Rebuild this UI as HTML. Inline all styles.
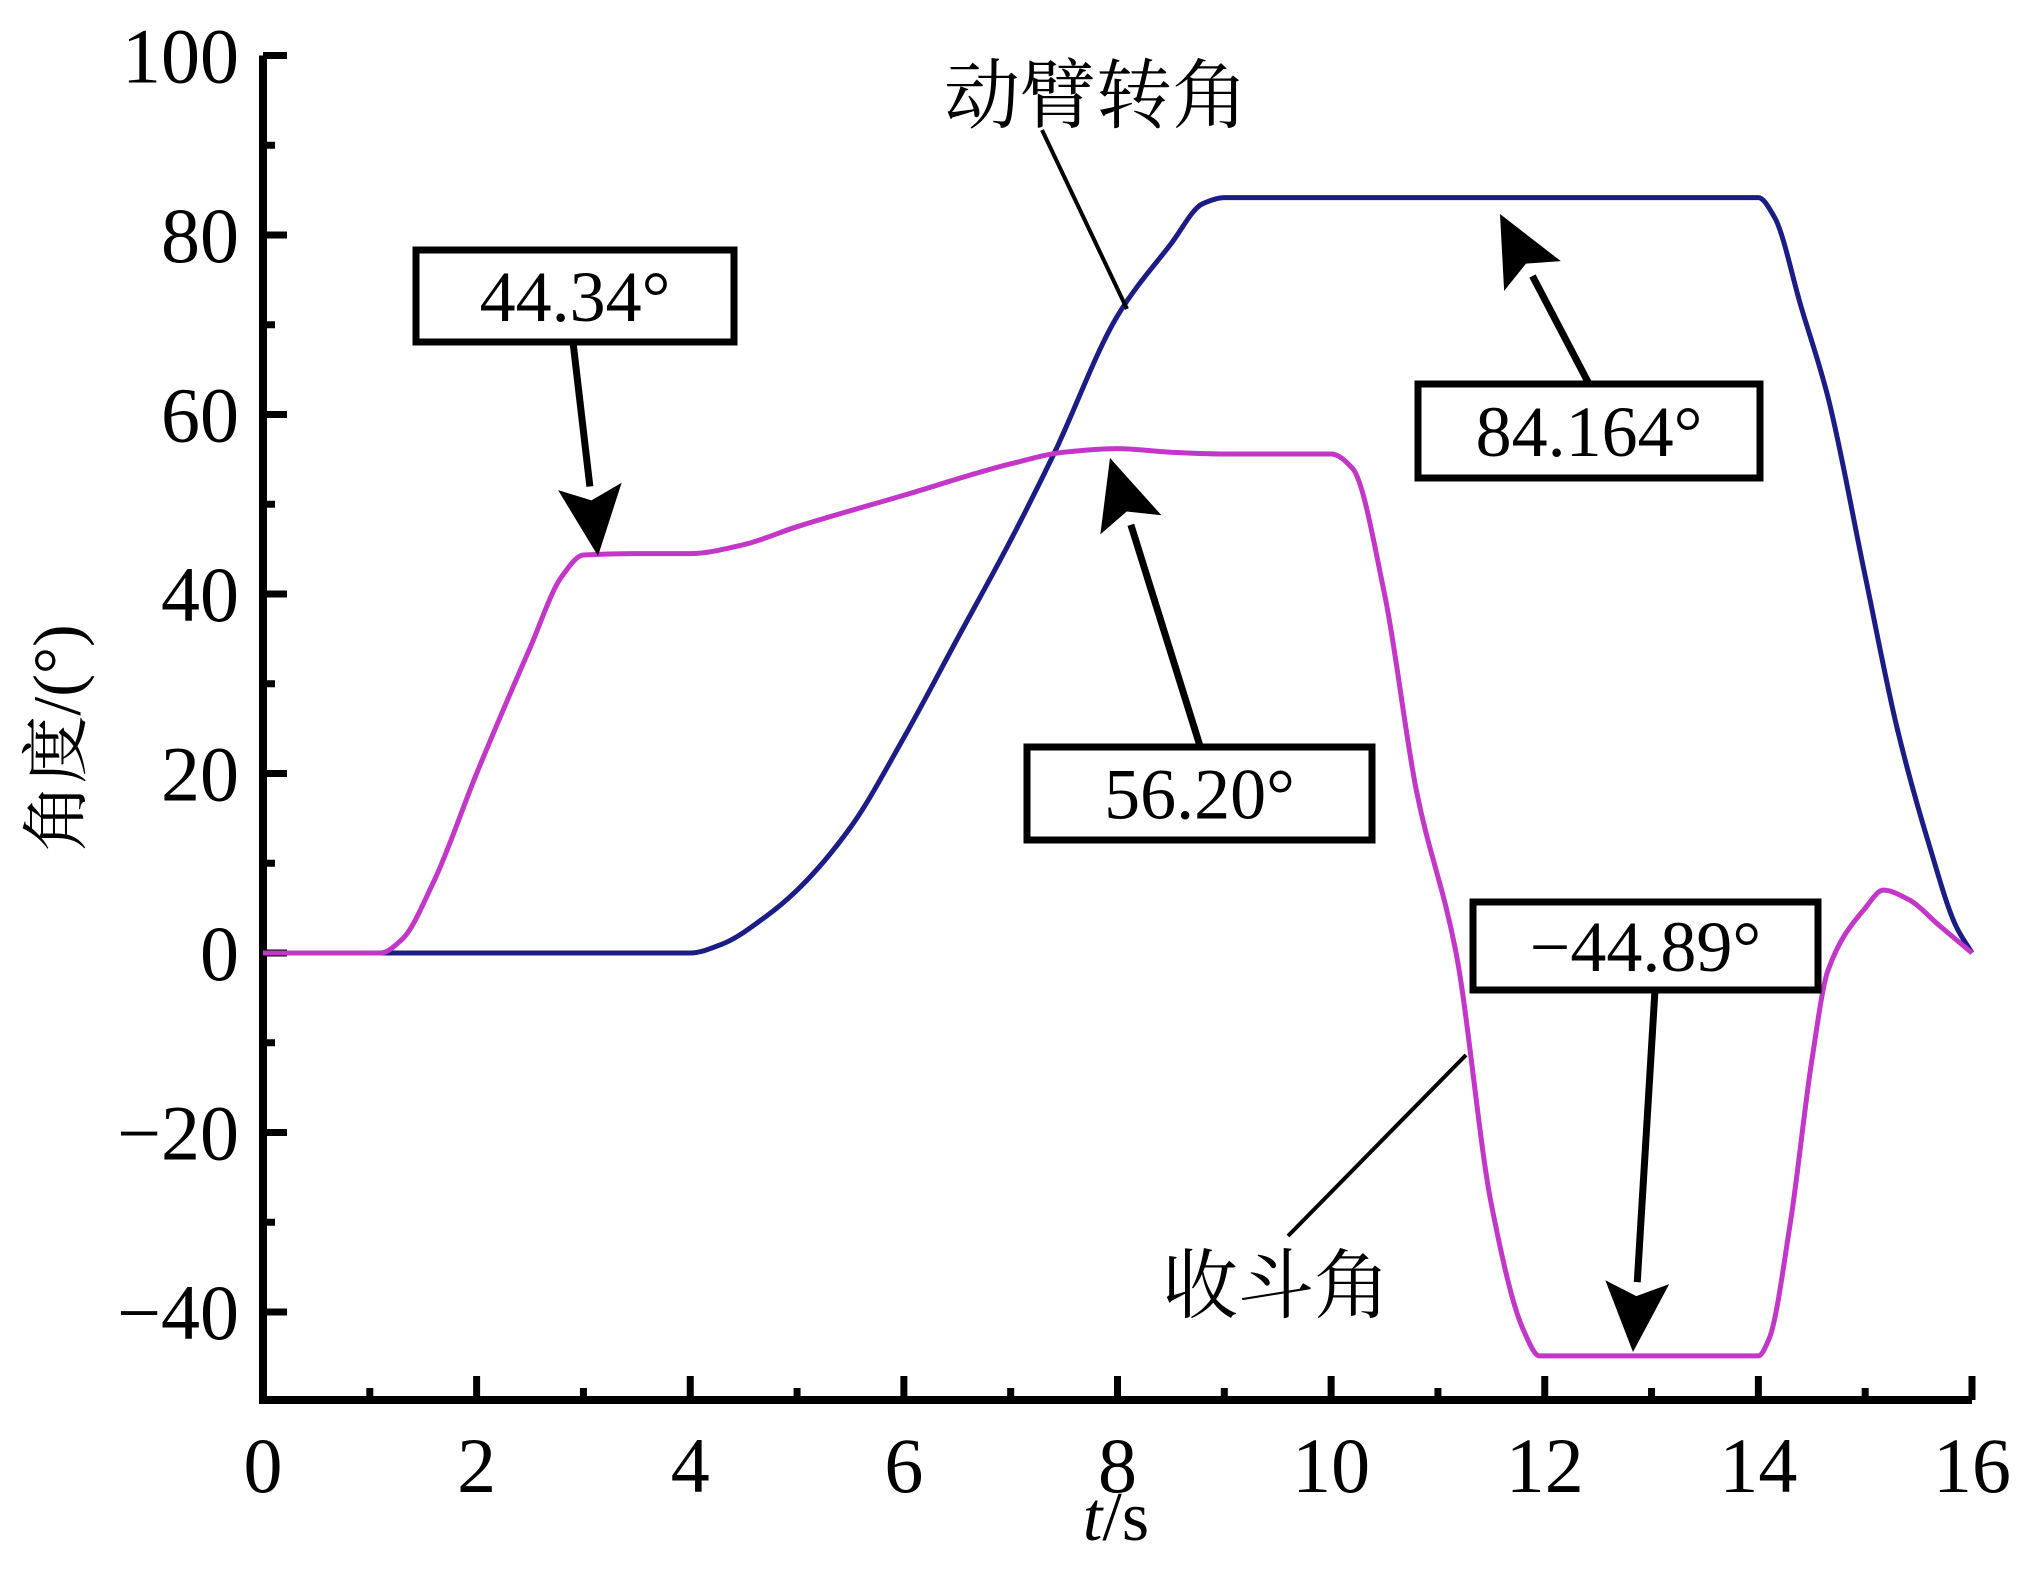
<!DOCTYPE html>
<html><head><meta charset="utf-8">
<style>
html,body{margin:0;padding:0;background:#fff;}
svg{display:block;}
text{font-family:"Liberation Serif","Noto Serif CJK SC",serif;fill:#000;}
</style></head>
<body>
<svg id="chart" width="2017" height="1592" viewBox="0 0 2017 1592" xmlns="http://www.w3.org/2000/svg">
<g id="axes"></g>
<g id="series"></g>
<g id="ann"></g>
<text x="0" y="0" font-size="68" text-anchor="middle" transform="translate(80,738) rotate(-90)">角度/(°)</text>
<text x="1116" y="1540" font-size="70" text-anchor="middle"><tspan font-style="italic">t</tspan>/s</text>
</svg>
<script>
const xTicks=[0,2,4,6,8,10,12,14,16];
const yTicks=[-40,-20,0,20,40,60,80,100];
const armT=[0,4,4.3,4.7,5,5.5,6,6.5,7,7.4,8,8.5,8.8,9,14,14.15,14.4,14.65,15,15.3,15.6,15.85,16];
const armV=[0,0,1,4,7,14,24,35,46,55.5,71,79,83.5,84.164,84.164,82,72,62,42,25,12,3,0];
const bucketT=[0,1.1,1.3,1.6,2,2.5,2.8,3,3.5,4,4.5,5,6,7,7.5,8,8.5,9,10,10.2,10.5,10.8,11.17,11.5,11.8,11.95,12.5,14,14.1,14.3,14.5,14.65,15,15.17,15.4,15.7,16];
const bucketV=[0,0,1.5,8,20,34,42,44.34,44.5,44.5,45.5,47.5,51,54.5,55.8,56.2,55.8,55.6,55.6,54,40,18,0,-28,-42,-44.89,-44.89,-44.89,-43,-30,-12,-2,5,7,6,3,0];
const NS="http://www.w3.org/2000/svg";
const X0=263,X1=1972,Y0=953,YS=8.975;
const sx=t=>X0+(X1-X0)*t/16;
const sy=v=>Y0-v*YS;
function mk(tag,attrs,parent){const e=document.createElementNS(NS,tag);for(const k in attrs)e.setAttribute(k,attrs[k]);parent.appendChild(e);return e;}
const axes=document.getElementById('axes');
let e=mk('path',{d:`M${X0},${sy(100)} V1400 H${X1}`,fill:'none',stroke:'#000','stroke-width':8},axes);


for(let v=-40;v<=100;v+=10){
 const major=v%20===0;
 e=mk('line',{x1:X0,x2:X0+(major?24:12),y1:sy(v),y2:sy(v),stroke:'#000','stroke-width':7},axes);
 
 
}
for(let t=1;t<=16;t++){
 const major=t%2===0;
 e=mk('line',{x1:sx(t),x2:sx(t),y1:1400,y2:1400-(major?24:12),stroke:'#000','stroke-width':7},axes);
 
 
}
yTicks.forEach(v=>{
 e=mk('text',{x:X0-24,y:sy(v)+27,'font-size':78,'text-anchor':'end'},axes);
 e.textContent=(v<0?'\u2212':'')+Math.abs(v);
 
 
});
xTicks.forEach(t=>{
 e=mk('text',{x:sx(t),y:1492,'font-size':78,'text-anchor':'middle'},axes);
 e.textContent=String(t);
 
 
});
function monotone(T,V){
 const x=T.map(sx),y=V.map(sy),n=x.length;
 const d=[],m=new Array(n);
 for(let i=0;i<n-1;i++)d.push((y[i+1]-y[i])/(x[i+1]-x[i]));
 m[0]=d[0];m[n-1]=d[n-2];
 for(let i=1;i<n-1;i++){
  if(d[i-1]*d[i]<=0)m[i]=0;
  else{const h0=x[i]-x[i-1],h1=x[i+1]-x[i];const w1=2*h1+h0,w2=h1+2*h0;m[i]=(w1+w2)/(w1/d[i-1]+w2/d[i]);}
 }
 let p=`M${x[0]},${y[0]}`;
 for(let i=0;i<n-1;i++){
  const h=(x[i+1]-x[i])/3;
  p+=` C${x[i]+h},${y[i]+m[i]*h} ${x[i+1]-h},${y[i+1]-m[i+1]*h} ${x[i+1]},${y[i+1]}`;
 }
 return p;
}
const ser=document.getElementById('series');
e=mk('path',{d:monotone(armT,armV),fill:'none',stroke:'#1c1c86','stroke-width':5},ser);


e=mk('path',{d:monotone(bucketT,bucketV),fill:'none',stroke:'#c236c8','stroke-width':5},ser);


const ann=document.getElementById('ann');
function arrow(x1,y1,x2,y2,name){
 const g=mk('g',{},ann);
 
 
 const dx=x2-x1,dy=y2-y1,L=Math.hypot(dx,dy),ux=dx/L,uy=dy/L;
 const hl=70,hw=32;
 const bx=x2-ux*hl,by=y2-uy*hl;
 mk('line',{x1,y1,x2:bx,y2:by,stroke:'#000','stroke-width':7},g);
 mk('polygon',{points:`${x2},${y2} ${bx-uy*hw},${by+ux*hw} ${bx+ux*14},${by+uy*14} ${bx+uy*hw},${by-ux*hw}`,fill:'#000'},g);
}
function box(x,y,w,h,txt,name){
 const g=mk('g',{},ann);
 
 
 mk('rect',{x,y,width:w,height:h,fill:'#fff',stroke:'#000','stroke-width':7},g);
 const t=mk('text',{x:x+w/2,y:y+h/2+25,'font-size':72,'text-anchor':'middle'},g);
 t.textContent=txt;
}
arrow(573,342,598,556,'arrow-44-34');
box(416,250,318,92,'44.34°','label-44-34');
arrow(1588,382,1500,214,'arrow-84-164');
box(1418,384,342,94,'84.164°','label-84-164');
arrow(1200,746,1110,458,'arrow-56-20');
box(1027,747,345,93,'56.20°','label-56-20');
arrow(1655,990,1633,1352,'arrow-neg-44-89');
box(1473,902,345,88,'\u221244.89°','label-neg-44-89');
e=mk('line',{x1:1042,y1:130,x2:1127,y2:309,stroke:'#000','stroke-width':4},ann);


e=mk('text',{x:1096,y:122,'font-size':76,'text-anchor':'middle'},ann);
e.textContent='动臂转角';


e=mk('line',{x1:1466,y1:1055,x2:1288,y2:1236,stroke:'#000','stroke-width':4},ann);


e=mk('text',{x:1276,y:1312,'font-size':76,'text-anchor':'middle'},ann);
e.textContent='收斗角';


</script>
</body></html>
